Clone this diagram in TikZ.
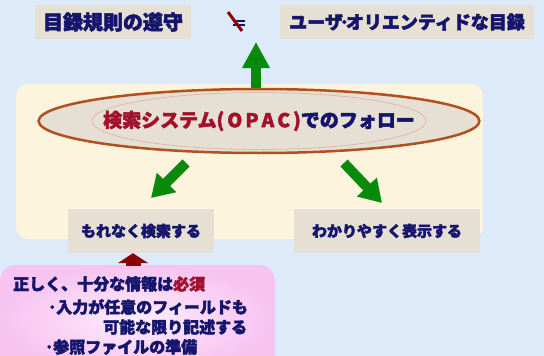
\documentclass[tikz,border=0pt]{standalone}
\usepackage{fontspec}
\newfontfamily\cjk{Noto Sans CJK JP}[BoldFeatures={FakeBold=2.5}]
\usetikzlibrary{arrows.meta,shapes.geometric}
\definecolor{bgblue}{HTML}{DCEAF9}
\definecolor{cream}{HTML}{FDF4DE}
\definecolor{boxbeige}{HTML}{E6DFD3}
\definecolor{navy}{HTML}{15156E}
\definecolor{dred}{HTML}{A3102C}
\definecolor{arrgreen}{HTML}{0A8A0A}
\definecolor{arrred}{HTML}{8B0000}
\definecolor{ellbrown}{HTML}{B0501E}
\definecolor{pinkout}{HTML}{F7C3F1}
\definecolor{pinkin}{HTML}{FDEDFB}
\tikzset{
  lbl/.style={fill=boxbeige, text=navy, inner sep=0pt, font=\cjk\bfseries\fontsize{20}{24}\selectfont},
  smallbox/.style={fill=boxbeige, text=navy, inner sep=0pt, minimum height=44pt, font=\cjk\bfseries\fontsize{15}{18}\selectfont},
  pinktxt/.style={anchor=west, text=navy, inner sep=0pt, font=\cjk\bfseries\fontsize{16}{19}\selectfont},
  greenarrow/.style={draw=arrgreen, line width=10pt, -{Triangle[length=26pt,width=26pt]}, arrgreen},
  greendiag/.style={draw=arrgreen, line width=10pt, -{Triangle[length=22pt,width=26pt]}, arrgreen},
}
\begin{document}
\begin{tikzpicture}[x=1pt,y=-1pt]
\useasboundingbox (0,0) rectangle (544,356);
\fill[bgblue] (0,0) rectangle (544,356);
% cream panel
\fill[cream, rounded corners=12pt] (16,84) rectangle (483,239);
% top labels
\node[lbl, minimum width=156pt, minimum height=34pt] (rules) at (113,22) {目録規則の遵守};
\node[lbl, minimum width=254pt, minimum height=34pt, font=\cjk\bfseries\fontsize{18}{22}\selectfont] (user) at (407,22) {ユーザ\kern-3pt･\kern-3ptオリエンティドな目録};
% not equal
\coordinate (eq) at (239,23);
\draw[navy, line width=2pt] ([xshift=-6pt,yshift=-2.2pt]eq) -- ([xshift=6pt,yshift=-2.2pt]eq)
  ([xshift=-6pt,yshift=2.2pt]eq) -- ([xshift=6pt,yshift=2.2pt]eq);
\coordinate (sl1) at (228,12);
\coordinate (sl2) at (242,31);
\draw[arrred, line width=3pt] (sl1) -- (sl2);
% ellipse
\node[ellipse, draw=ellbrown, line width=2.5pt, fill=boxbeige, minimum width=342pt, minimum height=64pt, inner sep=0pt,
  font=\cjk\bfseries\fontsize{19}{23}\selectfont] (opac) at (259,121)
  {\textcolor{dred}{検索システム(\,O\,P\,A\,C\,)}\textcolor{navy}{でのフォロー}};
\draw[ellbrown!40, line width=0.8pt] (259,121) ellipse [x radius=167pt, y radius=28.5pt];
% green up arrow
\coordinate (uptip) at (256,42);
\draw[greenarrow] (opac.north -| uptip) -- (uptip);
% diagonal arrows
\coordinate (la1) at (186,163);
\coordinate (la2) at (151,198);
\coordinate (ra1) at (344,163);
\coordinate (ra2) at (382,203);
\draw[greendiag] (la1) -- (la2);
\draw[greendiag] (ra1) -- (ra2);
% pink box
\shade[inner color=pinkin, outer color=pinkout, rounded corners=16pt] (0,265) rectangle (275,372);
% red arrow
\coordinate (pinktop) at (133,266);
\node[smallbox, minimum width=146pt] (search) at (141,231) {もれなく検索する};
\node[smallbox, minimum width=186pt] (show) at (387,231) {わかりやすく表示する};
\draw[arrred, line width=15pt, -{Triangle[length=10pt,width=30pt]}] (pinktop) -- (search.south -| pinktop);
% pink text
\node[pinktxt] (p1) at (13,284) {正しく、十分な情報は\textcolor{dred}{必須}};
\node[pinktxt] (p2) at (48,307) {･入力が任意のフィールドも};
\node[pinktxt] (p3) at (103,327) {可能な限り記述する};
\node[pinktxt] (p4) at (45,347) {･参照ファイルの準備};
\end{tikzpicture}
\end{document}
